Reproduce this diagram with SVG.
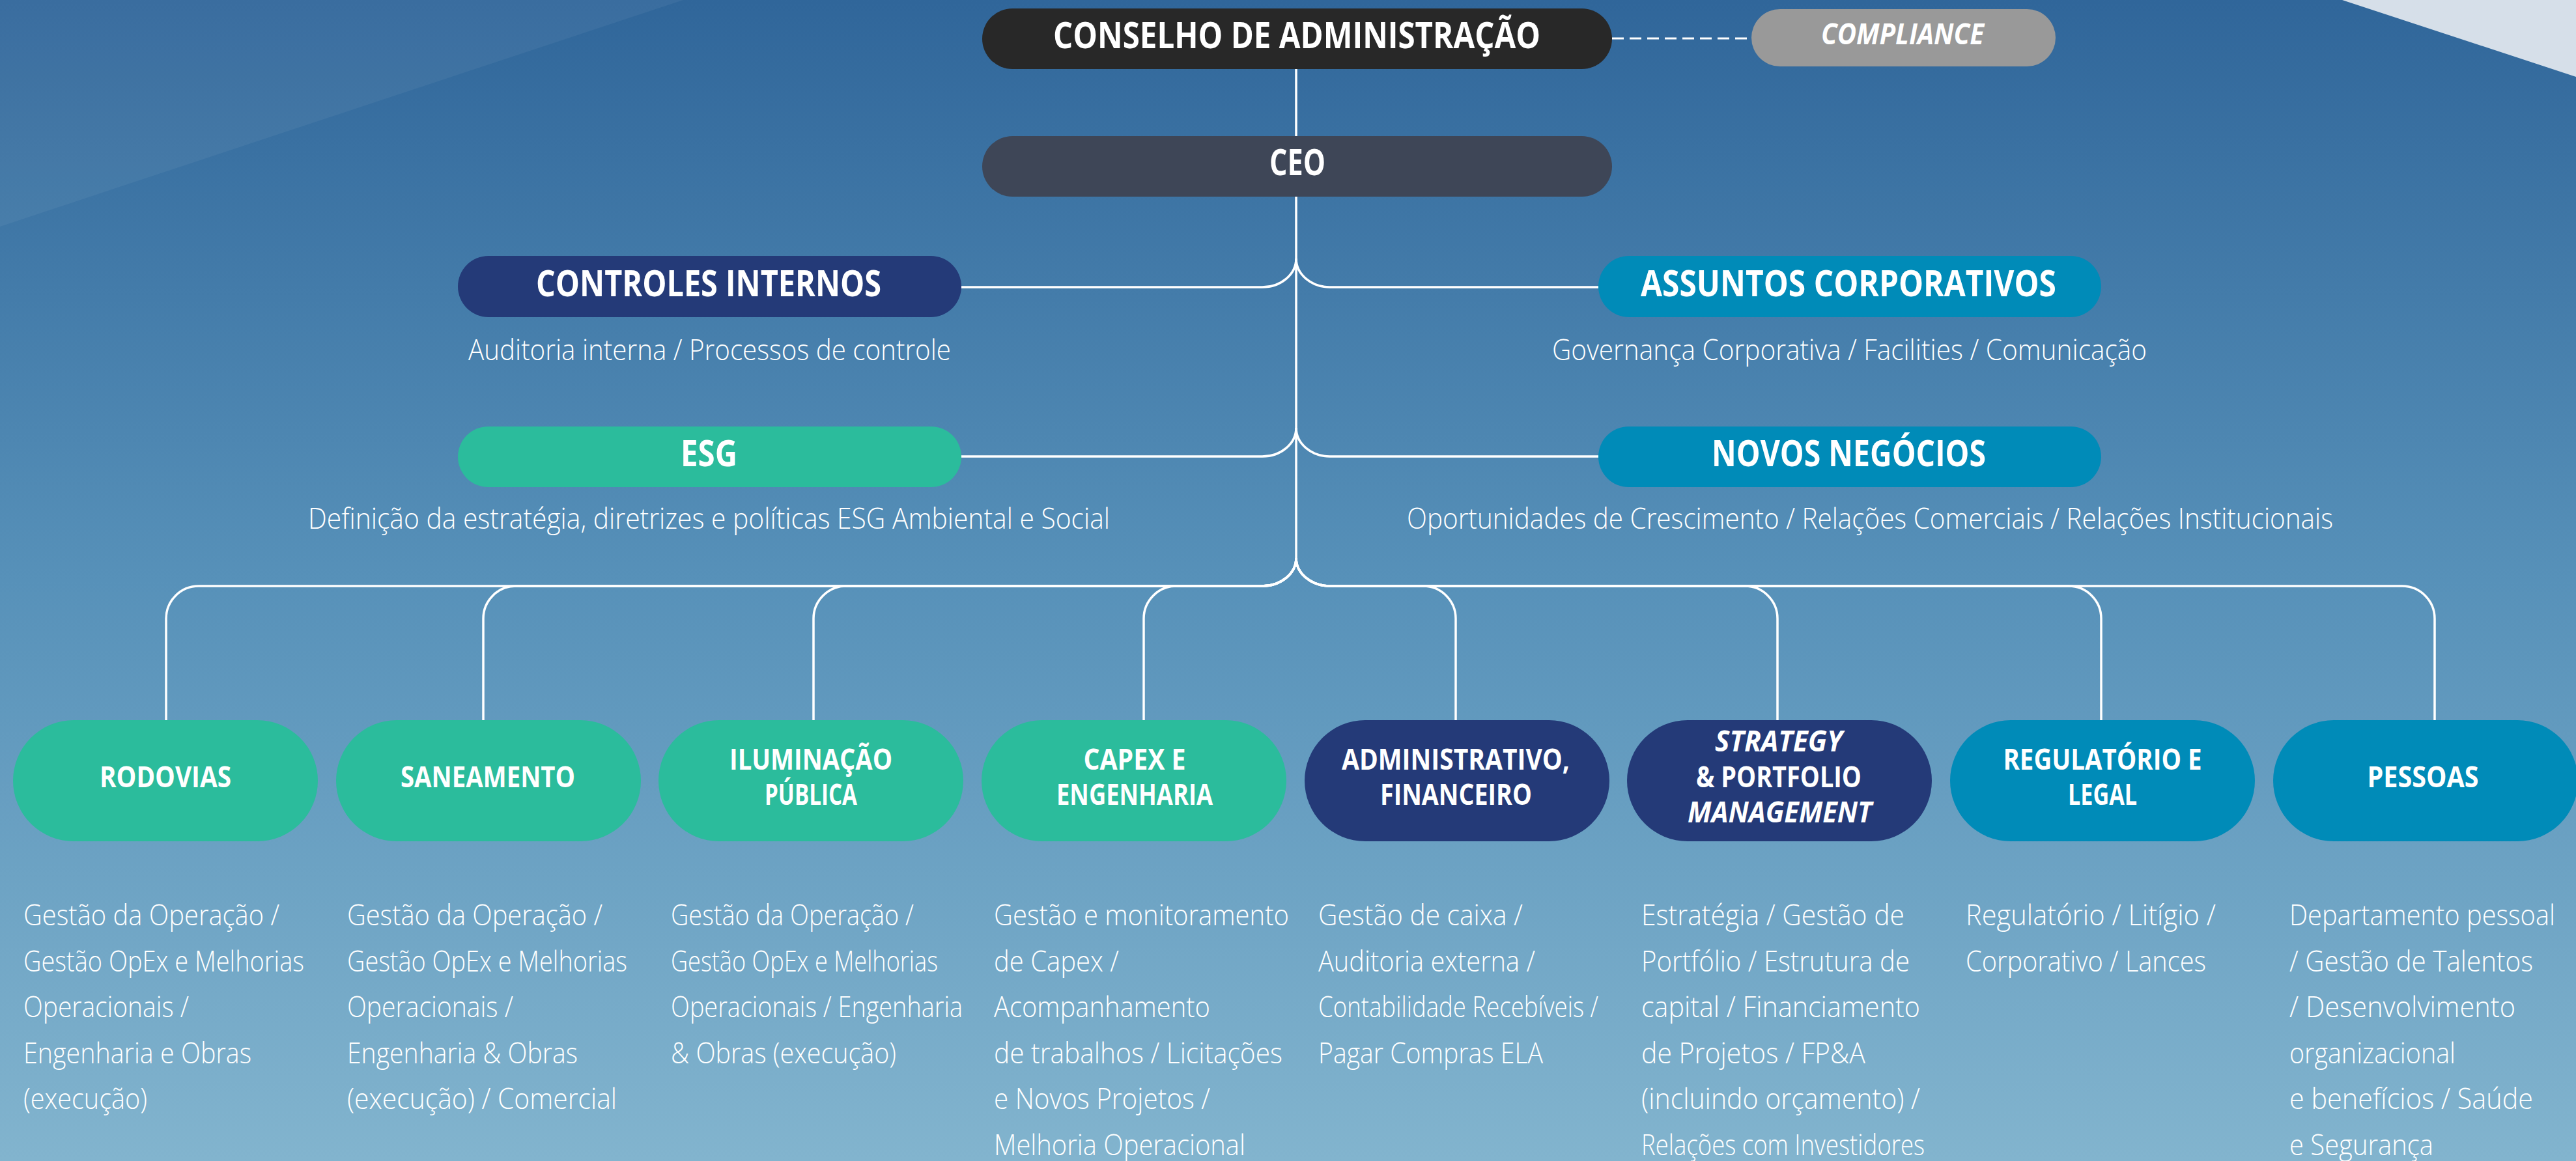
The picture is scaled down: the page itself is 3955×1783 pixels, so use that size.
<svg xmlns="http://www.w3.org/2000/svg" width="3955" height="1783" viewBox="0 0 3955 1783">
<defs>
<linearGradient id="bg" x1="0" y1="0" x2="0" y2="1">
<stop offset="0" stop-color="#30669a"/>
<stop offset="0.5" stop-color="#5791b9"/>
<stop offset="1" stop-color="#82b4ce"/>
</linearGradient>
<style>
.t{font-family:"Open Sans","Noto Sans","Liberation Sans",sans-serif;font-weight:700;fill:#fff;text-anchor:middle}
.big{font-size:56px}
.mid{font-size:44px}
.it{font-style:italic}
.d{font-family:"Open Sans","Noto Sans","Liberation Sans",sans-serif;font-weight:300;font-size:44px;fill:#fff}
.dc{text-anchor:middle}
.ln{fill:none;stroke:#fff;stroke-width:3.5}
.dash{fill:none;stroke:#fff;stroke-width:3;stroke-dasharray:18 9}
.green{fill:#2bbc9c}.navy{fill:#243a78}.cyan{fill:#008bb8}
</style>
</defs>
<rect width="3955" height="1783" fill="url(#bg)"/>
<polygon points="0,0 1049,0 0,348" fill="#ffffff" fill-opacity="0.05"/>
<polygon points="3596,0 3955,0 3955,118" fill="#d6dfe9"/>

<g id="connectors">
<line class="ln" x1="1990" y1="106" x2="1990" y2="209"/>
<line class="ln" x1="1990" y1="302" x2="1990" y2="858"/>
<path class="dash" d="M2475,59 H2689"/>
<path class="ln" d="M1476,441 H1938 A52,44 0 0 0 1990,397"/>
<path class="ln" d="M1990,397 A52,44 0 0 0 2042,441 H2454"/>
<path class="ln" d="M1476,701 H1938 A52,44 0 0 0 1990,657"/>
<path class="ln" d="M1990,657 A52,44 0 0 0 2042,701 H2454"/>
<path class="ln" d="M1990,857 A52,43 0 0 1 1938,900 H305 A50,50 0 0 0 255,950 V1106"/>
<path class="ln" d="M1990,857 A52,43 0 0 1 1938,900 H792 A50,50 0 0 0 742,950 V1106"/>
<path class="ln" d="M1990,857 A52,43 0 0 1 1938,900 H1299 A50,50 0 0 0 1249,950 V1106"/>
<path class="ln" d="M1990,857 A52,43 0 0 1 1938,900 H1806 A50,50 0 0 0 1756,950 V1106"/>
<path class="ln" d="M1990,857 A52,43 0 0 0 2042,900 H2185 A50,50 0 0 1 2235,950 V1106"/>
<path class="ln" d="M1990,857 A52,43 0 0 0 2042,900 H2679 A50,50 0 0 1 2729,950 V1106"/>
<path class="ln" d="M1990,857 A52,43 0 0 0 2042,900 H3176 A50,50 0 0 1 3226,950 V1106"/>
<path class="ln" d="M1990,857 A52,43 0 0 0 2042,900 H3688 A50,50 0 0 1 3738,950 V1106"/>
</g>

<g id="conselho">
<rect x="1508" y="13" width="967" height="93" rx="46.5" fill="#282828"/>
<text class="t big" x="1991" y="74" textLength="748" lengthAdjust="spacingAndGlyphs">CONSELHO DE ADMINISTRAÇÃO</text>
</g>
<g id="compliance">
<rect x="2689" y="14" width="467" height="88" rx="44" fill="#999999"/>
<text class="t it" font-size="45" x="2921" y="68" textLength="250" lengthAdjust="spacingAndGlyphs">COMPLIANCE</text>
</g>
<g id="ceo">
<rect x="1508" y="209" width="967" height="93" rx="46.5" fill="#3e4657"/>
<text class="t big" x="1992" y="269" textLength="86" lengthAdjust="spacingAndGlyphs">CEO</text>
</g>

<g id="controles">
<rect class="navy" x="703" y="393" width="773" height="94" rx="47"/>
<text class="t big" x="1088" y="455" textLength="530" lengthAdjust="spacingAndGlyphs">CONTROLES INTERNOS</text>
<text class="d dc" x="1089.5" y="553" textLength="741" lengthAdjust="spacingAndGlyphs">Auditoria interna / Processos de controle</text>
</g>
<g id="assuntos">
<rect class="cyan" x="2454" y="393" width="772" height="94" rx="47"/>
<text class="t big" x="2838" y="455" textLength="638" lengthAdjust="spacingAndGlyphs">ASSUNTOS CORPORATIVOS</text>
<text class="d dc" x="2839.5" y="553" textLength="913" lengthAdjust="spacingAndGlyphs">Governança Corporativa / Facilities / Comunicação</text>
</g>
<g id="esg">
<rect class="green" x="703" y="655" width="773" height="93" rx="46.5"/>
<text class="t big" x="1088.5" y="716" textLength="87" lengthAdjust="spacingAndGlyphs">ESG</text>
<text class="d dc" x="1088.5" y="812" textLength="1231" lengthAdjust="spacingAndGlyphs">Definição da estratégia, diretrizes e políticas ESG Ambiental e Social</text>
</g>
<g id="novos">
<rect class="cyan" x="2454" y="655" width="772" height="93" rx="46.5"/>
<text class="t big" x="2838.5" y="716" textLength="421" lengthAdjust="spacingAndGlyphs">NOVOS NEGÓCIOS</text>
<text class="d dc" x="2871" y="812" textLength="1422" lengthAdjust="spacingAndGlyphs">Oportunidades de Crescimento / Relações Comerciais / Relações Institucionais</text>
</g>

<g id="rodovias">
<rect class="green" x="20" y="1106" width="468" height="186" rx="93"/>
<text class="t mid" x="254" y="1209" textLength="202" lengthAdjust="spacingAndGlyphs">RODOVIAS</text>
<text class="d" x="36" y="1421" textLength="393" lengthAdjust="spacingAndGlyphs">Gestão da Operação /</text>
<text class="d" x="36" y="1491.5" textLength="431" lengthAdjust="spacingAndGlyphs">Gestão OpEx e Melhorias</text>
<text class="d" x="36" y="1562" textLength="254" lengthAdjust="spacingAndGlyphs">Operacionais /</text>
<text class="d" x="36" y="1632.5" textLength="350" lengthAdjust="spacingAndGlyphs">Engenharia e Obras</text>
<text class="d" x="36" y="1703" textLength="190" lengthAdjust="spacingAndGlyphs">(execução)</text>
</g>
<g id="saneamento">
<rect class="green" x="516" y="1106" width="468" height="186" rx="93"/>
<text class="t mid" x="749" y="1209" textLength="268" lengthAdjust="spacingAndGlyphs">SANEAMENTO</text>
<text class="d" x="533" y="1421" textLength="392" lengthAdjust="spacingAndGlyphs">Gestão da Operação /</text>
<text class="d" x="533" y="1491.5" textLength="430" lengthAdjust="spacingAndGlyphs">Gestão OpEx e Melhorias</text>
<text class="d" x="533" y="1562" textLength="255" lengthAdjust="spacingAndGlyphs">Operacionais /</text>
<text class="d" x="533" y="1632.5" textLength="354" lengthAdjust="spacingAndGlyphs">Engenharia &amp; Obras</text>
<text class="d" x="533" y="1703" textLength="414" lengthAdjust="spacingAndGlyphs">(execução) / Comercial</text>
</g>
<g id="iluminacao">
<rect class="green" x="1011" y="1106" width="468" height="186" rx="93"/>
<text class="t mid" x="1245" y="1182" textLength="250" lengthAdjust="spacingAndGlyphs">ILUMINAÇÃO</text>
<text class="t mid" x="1245" y="1236" textLength="142" lengthAdjust="spacingAndGlyphs">PÚBLICA</text>
<text class="d" x="1030" y="1421" textLength="373" lengthAdjust="spacingAndGlyphs">Gestão da Operação /</text>
<text class="d" x="1030" y="1491.5" textLength="410" lengthAdjust="spacingAndGlyphs">Gestão OpEx e Melhorias</text>
<text class="d" x="1030" y="1562" textLength="448" lengthAdjust="spacingAndGlyphs">Operacionais / Engenharia</text>
<text class="d" x="1030" y="1632.5" textLength="346" lengthAdjust="spacingAndGlyphs">&amp; Obras (execução)</text>
</g>
<g id="capex">
<rect class="green" x="1507" y="1106" width="468" height="186" rx="93"/>
<text class="t mid" x="1742" y="1182" textLength="157" lengthAdjust="spacingAndGlyphs">CAPEX E</text>
<text class="t mid" x="1742" y="1236" textLength="240" lengthAdjust="spacingAndGlyphs">ENGENHARIA</text>
<text class="d" x="1526" y="1421" textLength="453" lengthAdjust="spacingAndGlyphs">Gestão e monitoramento</text>
<text class="d" x="1526" y="1491.5" textLength="192" lengthAdjust="spacingAndGlyphs">de Capex /</text>
<text class="d" x="1526" y="1562" textLength="332" lengthAdjust="spacingAndGlyphs">Acompanhamento</text>
<text class="d" x="1526" y="1632.5" textLength="443" lengthAdjust="spacingAndGlyphs">de trabalhos / Licitações</text>
<text class="d" x="1526" y="1703" textLength="332" lengthAdjust="spacingAndGlyphs">e Novos Projetos /</text>
<text class="d" x="1526" y="1773.5" textLength="386" lengthAdjust="spacingAndGlyphs">Melhoria Operacional</text>
</g>
<g id="administrativo">
<rect class="navy" x="2003" y="1106" width="468" height="186" rx="93"/>
<text class="t mid" x="2235" y="1182" textLength="350" lengthAdjust="spacingAndGlyphs">ADMINISTRATIVO,</text>
<text class="t mid" x="2235.5" y="1236" textLength="233" lengthAdjust="spacingAndGlyphs">FINANCEIRO</text>
<text class="d" x="2024" y="1421" textLength="314" lengthAdjust="spacingAndGlyphs">Gestão de caixa /</text>
<text class="d" x="2024" y="1491.5" textLength="333" lengthAdjust="spacingAndGlyphs">Auditoria externa /</text>
<text class="d" x="2024" y="1562" textLength="430" lengthAdjust="spacingAndGlyphs">Contabilidade Recebíveis /</text>
<text class="d" x="2024" y="1632.5" textLength="345" lengthAdjust="spacingAndGlyphs">Pagar Compras ELA</text>
</g>
<g id="strategy">
<rect class="navy" x="2498" y="1106" width="468" height="186" rx="93"/>
<text class="t mid it" x="2731" y="1154" textLength="196" lengthAdjust="spacingAndGlyphs">STRATEGY</text>
<text class="t mid" x="2731" y="1209" textLength="254" lengthAdjust="spacingAndGlyphs">&amp; PORTFOLIO</text>
<text class="t mid it" x="2732.5" y="1263" textLength="283" lengthAdjust="spacingAndGlyphs">MANAGEMENT</text>
<text class="d" x="2520" y="1421" textLength="404" lengthAdjust="spacingAndGlyphs">Estratégia / Gestão de</text>
<text class="d" x="2520" y="1491.5" textLength="412" lengthAdjust="spacingAndGlyphs">Portfólio / Estrutura de</text>
<text class="d" x="2520" y="1562" textLength="428" lengthAdjust="spacingAndGlyphs">capital / Financiamento</text>
<text class="d" x="2520" y="1632.5" textLength="344" lengthAdjust="spacingAndGlyphs">de Projetos / FP&amp;A</text>
<text class="d" x="2520" y="1703" textLength="428" lengthAdjust="spacingAndGlyphs">(incluindo orçamento) /</text>
<text class="d" x="2520" y="1773.5" textLength="435" lengthAdjust="spacingAndGlyphs">Relações com Investidores</text>
</g>
<g id="regulatorio">
<rect class="cyan" x="2994" y="1106" width="468" height="186" rx="93"/>
<text class="t mid" x="3228" y="1182" textLength="305" lengthAdjust="spacingAndGlyphs">REGULATÓRIO E</text>
<text class="t mid" x="3228" y="1236" textLength="106" lengthAdjust="spacingAndGlyphs">LEGAL</text>
<text class="d" x="3018" y="1421" textLength="384" lengthAdjust="spacingAndGlyphs">Regulatório / Litígio /</text>
<text class="d" x="3018" y="1491.5" textLength="369" lengthAdjust="spacingAndGlyphs">Corporativo / Lances</text>
</g>
<g id="pessoas">
<rect class="cyan" x="3490" y="1106" width="468" height="186" rx="93"/>
<text class="t mid" x="3720" y="1209" textLength="171" lengthAdjust="spacingAndGlyphs">PESSOAS</text>
<text class="d" x="3515" y="1421" textLength="408" lengthAdjust="spacingAndGlyphs">Departamento pessoal</text>
<text class="d" x="3515" y="1491.5" textLength="374" lengthAdjust="spacingAndGlyphs">/ Gestão de Talentos</text>
<text class="d" x="3515" y="1562" textLength="347" lengthAdjust="spacingAndGlyphs">/ Desenvolvimento</text>
<text class="d" x="3515" y="1632.5" textLength="255" lengthAdjust="spacingAndGlyphs">organizacional</text>
<text class="d" x="3515" y="1703" textLength="374" lengthAdjust="spacingAndGlyphs">e benefícios / Saúde</text>
<text class="d" x="3515" y="1773.5" textLength="221" lengthAdjust="spacingAndGlyphs">e Segurança</text>
</g>
</svg>
